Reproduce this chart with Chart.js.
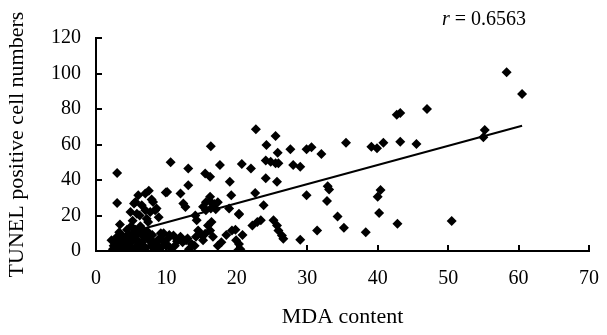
<!DOCTYPE html>
<html>
<head>
<meta charset="utf-8">
<script src="https://cdn.jsdelivr.net/npm/chart.js@4.4.1/dist/chart.umd.min.js"></script>
<style>
  html, body { margin: 0; padding: 0; background: #fff; }
  #wrap { width: 607px; height: 335px; }
</style>
</head>
<body>
<div id="wrap"><canvas id="scatterChart"></canvas></div>
<script>
// MDA content (x) and TUNEL positive cell numbers (y)
const mdaContent = [
    3.0, 10.6, 13.1, 13.1, 15.5, 16.2, 16.3, 17.6, 19.0, 20.7, 22.0, 22.7, 24.2, 25.5, 25.8, 27.6,
    29.9, 30.6, 32.0, 35.5, 39.1, 39.9, 40.8, 42.7, 43.2, 47.0, 43.2, 45.5, 58.3, 60.5, 55.2, 55.0, 50.5,
    24.1, 24.8, 25.5, 25.9, 28.0, 29.0, 24.1, 25.7, 22.6, 29.9, 32.9, 33.1, 32.8, 40.4, 40.0, 40.2,
    34.3, 35.2, 38.3, 42.8, 31.4, 29.0, 23.8, 22.9, 22.2, 23.4, 25.2, 25.7, 25.9, 26.4, 26.6, 20.3, 19.2,
    3.0, 3.4, 4.9, 5.4, 5.6, 5.8, 6.0, 6.5, 7.0, 7.0, 7.2, 7.4, 7.5, 7.7, 8.1, 8.4, 9.9, 10.1, 12.0,
    12.4, 12.7, 14.1, 14.3, 15.2, 15.6, 16.2, 16.8, 17.3, 15.6, 16.3, 17.0, 16.2, 16.4, 15.9, 20.3,
    19.8, 18.9, 8.9, 6.3, 4.4,
    2.2, 2.5, 2.7, 3.0, 3.2, 3.5, 3.8, 4.0, 4.3, 4.6, 5.0, 5.2, 5.5, 5.8, 6.0, 6.2, 6.5, 6.8, 7.0,
    7.3, 7.5, 7.8, 8.0, 8.3, 8.6, 9.0, 9.3, 9.6, 10.0, 10.2, 10.6, 11.0, 11.5, 11.8, 12.3, 12.8, 13.2,
    13.6, 14.2, 14.5, 15.0, 15.5, 16.2, 16.6, 17.3, 17.8, 18.5, 19.3, 19.9, 20.3, 20.5, 20.8, 20.2,
    2.8, 3.6, 4.2, 4.8, 5.3, 5.9, 6.4, 7.1, 4.5, 3.3, 5.6, 6.7,
    2.4, 3.9, 4.7, 5.1, 6.1, 6.9, 7.6, 8.2, 8.8, 9.4, 10.4, 11.2, 12.0, 13.0, 14.0, 15.2,
    5.2, 6.2, 7.9, 8.6, 9.2, 6.6, 5.0, 4.1
];
const tunelCells = [
    44, 50, 46.5, 37, 43.7, 41.8, 59, 48.4, 39, 49, 46.5, 68.6, 59.7, 64.8, 55.4, 57.3,
    57.3, 58.4, 54.6, 61, 58.8, 57.9, 61, 76.7, 77.7, 80, 61.6, 60.3, 100.7, 88.5, 68.2, 64.1, 16.9,
    51, 50.3, 49.4, 49.4, 48.4, 47.5, 41, 39, 32.7, 31.4, 36.5, 34.7, 28.2, 34.3, 30.5, 21.4,
    19.5, 13.1, 10.6, 15.4, 11.6, 6.3, 25.8, 16.3, 14.4, 17.3, 17.3, 14.4, 11.6, 8.8, 6.9, 21, 31.4,
    27, 15, 22, 26.7, 27.6, 21, 31.4, 25.8, 32.4, 23, 18.2, 16.3, 34, 22, 27.6, 23, 33, 33.3, 32.4,
    26.7, 24.8, 20, 17.3, 25, 27.5, 28, 26.5, 27.5, 23, 24, 23.5, 30.5, 16.3, 14.4, 20.5,
    12, 24, 19, 14, 12,
    6, 3, 1, 8, 4, 2, 6, 0.5, 3, 9, 5, 1, 7, 3, 10, 0, 5, 8, 2,
    11, 6, 3, 9, 1, 5, 7, 2, 10, 4, 7, 1.5, 8.8, 5.5, 6.5, 5, 6, 1,
    4, 8, 11.6, 9, 9.7, 11.6, 8, 3, 5, 9, 11.6, 6, 4, 1, 9, 0.5,
    5, 9, 7, 2, 10, 6, 2.5, 8.5, 4.5, 10.5, 12, 11.5,
    1, 4, 6, 8, 4, 1, 9, 5, 3, 6, 9, 3, 8, 7, 3, 6,
    17, 20, 29, 24, 10, 9, 14, 7
];

// linear trend line end points (x, y)
const trendX = [2.5, 60.5];
const trendY = [8.0, 70.6];

const xTicks = [0, 10, 20, 30, 40, 50, 60, 70];
const yTicks = [0, 20, 40, 60, 80, 100, 120];
const rText = '0.6563';

const serif = "'Liberation Serif', 'Times New Roman', serif";

const points = mdaContent.map((x, i) => ({ x: x, y: tunelCells[i] }));
const trend = trendX.map((x, i) => ({ x: x, y: trendY[i] }));

// draws the little tick marks pointing into the plot, plus the r label
const inwardTicks = {
    id: 'inwardTicks',
    afterDraw(chart) {
        const ctx = chart.ctx;
        const xs = chart.scales.x, ys = chart.scales.y;
        const area = chart.chartArea;
        ctx.save();
        ctx.strokeStyle = '#000';
        ctx.lineWidth = 2;
        ctx.beginPath();
        xTicks.forEach(v => {
            const px = Math.round(xs.getPixelForValue(v));
            ctx.moveTo(px, area.bottom);
            ctx.lineTo(px, area.bottom - 6);
        });
        yTicks.forEach(v => {
            const py = Math.round(ys.getPixelForValue(v));
            ctx.moveTo(area.left, py);
            ctx.lineTo(area.left + 6, py);
        });
        ctx.stroke();

        // r = 0.6563
        ctx.fillStyle = '#000';
        ctx.textBaseline = 'alphabetic';
        ctx.font = 'italic 20px ' + serif;
        const x0 = 442, y0 = 25;
        ctx.fillText('r', x0, y0);
        const w = ctx.measureText('r').width;
        ctx.font = '20px ' + serif;
        ctx.fillText(' = ' + rText, x0 + w, y0);
        ctx.restore();
    }
};

const ctx = document.getElementById('scatterChart').getContext('2d');
new Chart(ctx, {
    type: 'scatter',
    data: {
        datasets: [{
            label: 'TUNEL',
            data: points,
            pointStyle: 'rectRot',
            pointRadius: 5,
            pointBorderWidth: 0,
            backgroundColor: '#000',
            borderColor: '#000'
        }, {
            type: 'line',
            label: 'trend',
            data: trend,
            borderColor: '#000',
            borderWidth: 2,
            pointRadius: 0,
            fill: false
        }]
    },
    options: {
        responsive: true,
        maintainAspectRatio: false,
        animation: false,
        layout: { padding: { top: 38, right: 10, bottom: 0, left: 0 } },
        plugins: {
            legend: { display: false },
            tooltip: { enabled: false }
        },
        scales: {
            x: {
                type: 'linear',
                min: 0,
                max: 70,
                afterBuildTicks: s => { s.ticks = xTicks.map(v => ({ value: v })); },
                afterFit: s => { s.height = 84; },
                grid: { display: false },
                border: { display: true, color: '#000', width: 2 },
                ticks: { color: '#000', padding: 8, font: { family: serif, size: 20 } },
                title: {
                    display: true,
                    text: 'MDA content',
                    color: '#000',
                    padding: { top: 0, bottom: 5 },
                    font: { family: serif, size: 22 }
                }
            },
            y: {
                type: 'linear',
                min: 0,
                max: 120,
                afterBuildTicks: s => { s.ticks = yTicks.map(v => ({ value: v })); },
                afterFit: s => { s.width = 96; },
                grid: { display: false },
                border: { display: true, color: '#000', width: 2 },
                ticks: { color: '#000', padding: 7, font: { family: serif, size: 20 } },
                title: {
                    display: true,
                    text: 'TUNEL positive cell numbers',
                    color: '#000',
                    padding: { top: 4, bottom: 0 },
                    font: { family: serif, size: 22 }
                }
            }
        }
    },
    plugins: [inwardTicks]
});
</script>
</body>
</html>
